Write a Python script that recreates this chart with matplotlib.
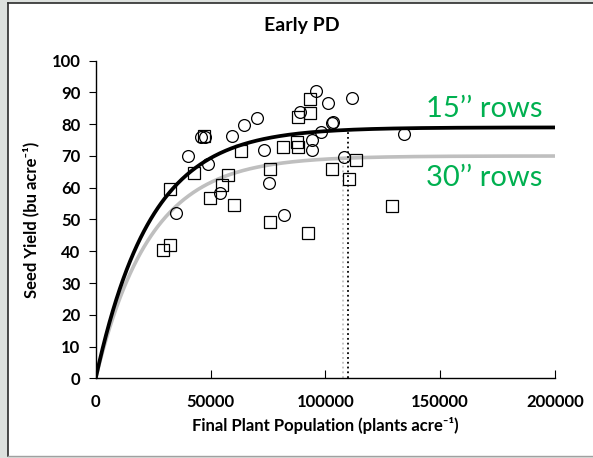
import matplotlib
matplotlib.use("Agg")
import matplotlib.pyplot as plt
import numpy as np
from matplotlib.patches import Rectangle
from matplotlib.lines import Line2D

plt.rcParams['font.family'] = ['Lato', 'DejaVu Sans']

# 15 inch rows (circles)
pop_15 = [95900, 101200, 89000, 103000, 103300, 70100, 64700, 59500, 45900, 47600,
          40300, 49000, 73300, 98000, 94300, 94300, 75300, 54300, 35100, 82100,
          111700, 134400, 108100]
yield_15 = [90.5, 86.6, 83.8, 80.3, 80.8, 82.1, 79.7, 76.3, 75.9, 75.9,
            70.0, 67.4, 71.8, 77.4, 74.9, 71.8, 61.5, 58.2, 52.0, 51.4,
            88.3, 76.9, 69.7]

# 30 inch rows (squares)
pop_30 = [93300, 88200, 93300, 47200, 63100, 81400, 87500, 88200, 103000, 76000,
          42900, 57700, 55100, 32500, 49900, 60400, 76000, 92600, 32500, 29200,
          113400, 110200, 129200]
yield_30 = [87.9, 82.4, 83.4, 76.3, 71.6, 72.8, 74.4, 72.8, 65.8, 66.0,
            64.7, 64.0, 60.8, 59.5, 56.8, 54.7, 49.1, 45.9, 42.0, 40.5,
            68.8, 62.7, 54.3]

# fitted asymptotic curves: y = a * (1 - exp(-b * x))
fit_15 = (79.0, 4.2e-5)
fit_30 = (70.0, 4.25e-5)
# population where each curve levels off
plateau_15 = 110000
plateau_30 = 107800

green = '#00b050'
light = '#bfbfbf'

fig = plt.figure(figsize=(5.93, 4.58), dpi=100)
fig.patch.set_facecolor('#dde1de')
W, H = 593, 458
fig.add_artist(Rectangle((8 / W, 2 / H), 1.0, 1 - 5 / H, transform=fig.transFigure,
                         facecolor='white', edgecolor='none', zorder=0))
fig.add_artist(Line2D([8 / W, 1], [1 - 3 / H] * 2, transform=fig.transFigure,
                      color='#2b2b2b', lw=1.2))
fig.add_artist(Line2D([8 / W] * 2, [2 / H, 1 - 3 / H], transform=fig.transFigure,
                      color='#2b2b2b', lw=1.2))
fig.add_artist(Line2D([8 / W, 1], [2 / H] * 2, transform=fig.transFigure,
                      color='#a0a0a0', lw=1.0))

ax = fig.add_axes([95.7 / W, 1 - 378.3 / H, 459.3 / W, 317.6 / H])
ax.set_facecolor('none')

x = np.linspace(0, 200000, 400)
a, b = fit_30
ax.plot(x, a * (1 - np.exp(-b * x)), color=light, lw=2.6, zorder=2)
ax.plot([plateau_30] * 2, [0, a * (1 - np.exp(-b * plateau_30))],
        color=light, lw=1.3, ls=':', zorder=2)
a, b = fit_15
ax.plot(x, a * (1 - np.exp(-b * x)), color='black', lw=2.7, zorder=3)
ax.plot([plateau_15] * 2, [0, a * (1 - np.exp(-b * plateau_15))],
        color='black', lw=1.3, ls=':', zorder=3)

ax.plot(pop_15, yield_15, 'o', ms=8.5, mfc='none', mec='black', mew=0.9, zorder=4)
ax.plot(pop_30, yield_30, 's', ms=8, mfc='none', mec='black', mew=0.9, zorder=4)

ax.text(144000, 82.4, '15’’ rows', color=green, fontsize=21, va='baseline')
ax.text(144000, 60.5, '30’’ rows', color=green, fontsize=21, va='baseline')

ax.set_xlim(0, 200000)
ax.set_ylim(0, 100)
ax.set_xticks([0, 50000, 100000, 150000, 200000])
ax.set_yticks(range(0, 101, 10))
for s in ['top', 'right']:
    ax.spines[s].set_visible(False)
for s in ['left', 'bottom']:
    ax.spines[s].set_linewidth(1.0)
ax.tick_params(axis='x', direction='in', length=6, pad=11, labelsize=12)
ax.tick_params(axis='y', direction='out', length=5, pad=6, labelsize=12)
for lbl in ax.get_xticklabels() + ax.get_yticklabels():
    lbl.set_fontweight('bold')

ax.set_xlabel('Final Plant Population (plants acre⁻¹)', fontsize=12,
              fontweight='bold', labelpad=5)
ax.set_ylabel('Seed Yield (bu acre⁻¹)', fontsize=12, fontweight='bold',
              labelpad=9)
fig.text(302 / W, 1 - 25 / H, 'Early PD', fontsize=14, fontweight='bold',
         ha='center', va='center')

fig.savefig('out.png', dpi=100, facecolor=fig.get_facecolor())
